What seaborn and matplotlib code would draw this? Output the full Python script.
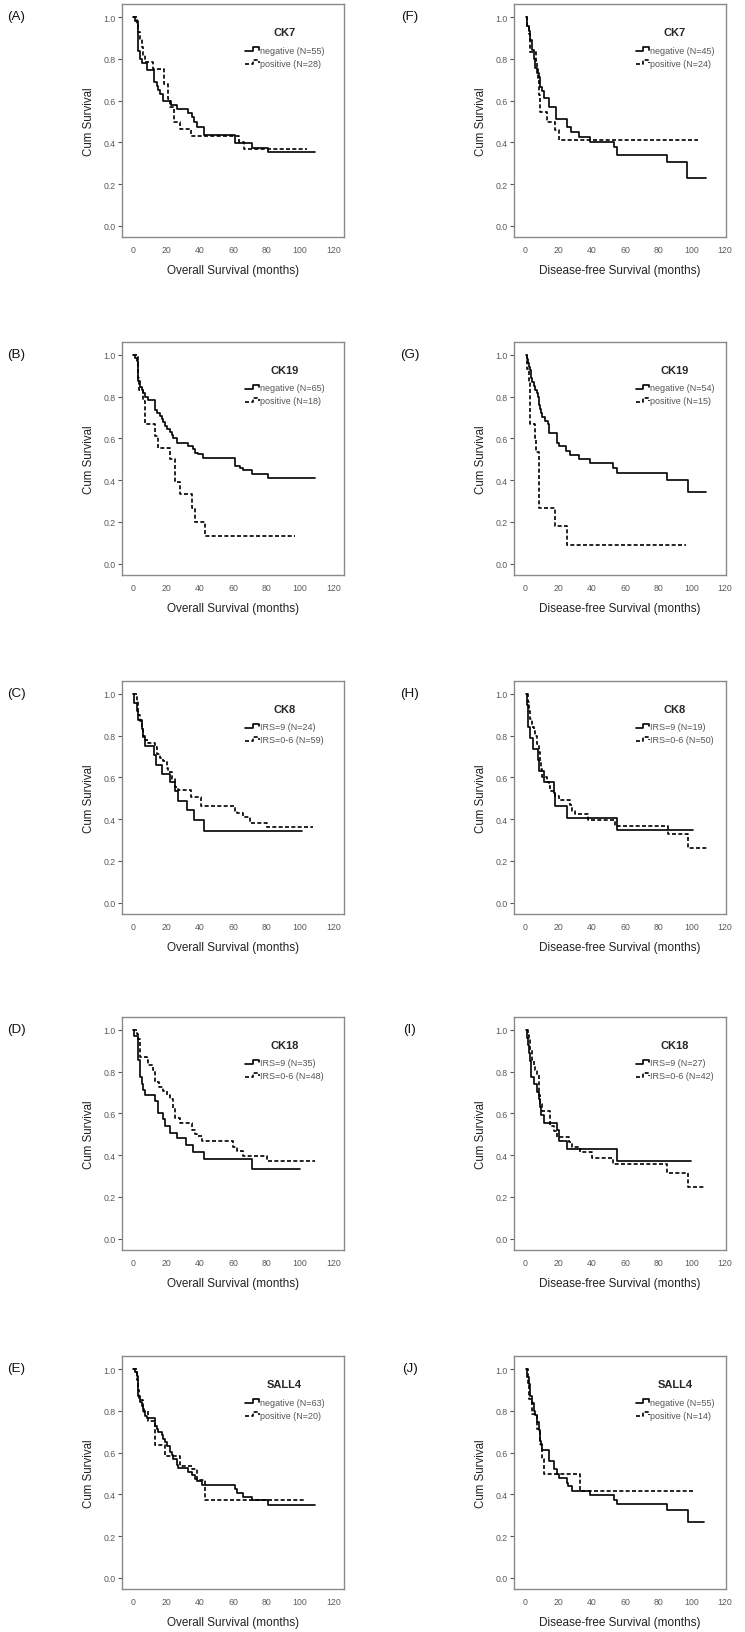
import matplotlib
matplotlib.use("Agg")
import matplotlib.pyplot as plt
import seaborn as sns
from matplotlib.lines import Line2D
from matplotlib.legend_handler import HandlerBase

# ---- data: Kaplan-Meier steps (time in months, cumulative survival) ----
# (A) CK7, overall survival
a_neg_t = [0, 1, 2.5, 3, 4, 5, 8, 12.5, 14, 15, 16, 18, 22.5, 26, 33, 35, 36.5, 38, 42.5, 61, 71, 81, 109]
a_neg_s = [1.0, 0.98, 0.96, 0.84, 0.80, 0.78, 0.745, 0.69, 0.67, 0.65, 0.63, 0.60, 0.58, 0.56, 0.54, 0.52, 0.50, 0.475, 0.437, 0.395, 0.375, 0.352, 0.352]
a_pos_t = [0, 2, 3, 4, 5, 6, 7, 12, 18.5, 21, 22, 24.5, 28, 34.5, 63.5, 66.5, 104]
a_pos_s = [1.0, 0.964, 0.929, 0.893, 0.857, 0.821, 0.786, 0.75, 0.68, 0.61, 0.571, 0.50, 0.464, 0.429, 0.40, 0.368, 0.368]

# (B) CK19, overall survival
b_neg_t = [0, 1, 2, 3, 4, 5, 6, 7, 9, 13, 14, 16, 17, 18, 19, 20, 22, 23, 24, 26, 33, 36, 37, 39, 42, 61, 64, 66, 71, 81, 109]
b_neg_s = [1.0, 0.985, 0.969, 0.877, 0.846, 0.831, 0.815, 0.80, 0.785, 0.738, 0.723, 0.708, 0.692, 0.677, 0.66, 0.646, 0.631, 0.615, 0.60, 0.58, 0.563, 0.548, 0.532, 0.525, 0.505, 0.47, 0.46, 0.45, 0.43, 0.41, 0.41]
b_pos_t = [0, 2.5, 3, 3.5, 6, 7, 13, 15, 22, 25, 28, 35, 37, 43, 97]
b_pos_s = [1.0, 0.944, 0.889, 0.833, 0.778, 0.667, 0.611, 0.556, 0.50, 0.389, 0.333, 0.267, 0.20, 0.133, 0.133]

# (C) CK8, overall survival
c_hi_t = [0, 0.2, 2, 3, 5, 6, 7, 12.6, 13.5, 17.4, 22, 25, 27, 32, 36.6, 42.6, 101]
c_hi_s = [1.0, 0.958, 0.917, 0.875, 0.833, 0.792, 0.75, 0.708, 0.66, 0.617, 0.577, 0.537, 0.486, 0.442, 0.394, 0.343, 0.343]
c_lo_t = [0, 2, 3, 4, 5, 6, 7, 9, 13, 14, 16, 18, 20, 21, 23, 25, 27, 34.5, 40.5, 61, 62, 66, 70, 80, 108]
c_lo_s = [1.0, 0.966, 0.898, 0.869, 0.83, 0.80, 0.78, 0.764, 0.746, 0.712, 0.695, 0.678, 0.644, 0.625, 0.59, 0.553, 0.541, 0.505, 0.464, 0.44, 0.429, 0.41, 0.383, 0.362, 0.362]

# (D) CK18, overall survival
d_hi_t = [0, 0.2, 3, 4, 5, 6, 7, 13, 14.5, 15, 18, 19, 22, 26, 31.6, 36, 42.4, 71, 100]
d_hi_s = [1.0, 0.971, 0.857, 0.773, 0.743, 0.714, 0.686, 0.657, 0.629, 0.60, 0.571, 0.54, 0.508, 0.48, 0.449, 0.414, 0.38, 0.332, 0.332]
d_lo_t = [0, 2, 3, 4, 8, 9, 12, 13, 15.6, 18, 20, 22, 24, 25, 28, 35, 37, 38, 41, 60, 62, 66, 80, 109]
d_lo_s = [1.0, 0.979, 0.958, 0.872, 0.854, 0.833, 0.808, 0.752, 0.728, 0.708, 0.688, 0.667, 0.625, 0.58, 0.553, 0.521, 0.50, 0.49, 0.468, 0.44, 0.42, 0.398, 0.372, 0.372]

# (E) SALL4, overall survival
e_neg_t = [0, 1, 2, 2.5, 3, 4, 5, 6, 6.5, 7, 8, 13, 14, 15, 17, 18, 19, 20, 22, 23, 24, 26, 27, 33, 35, 37, 38, 41, 61, 62, 66, 71, 81, 109]
e_neg_s = [1.0, 0.984, 0.968, 0.952, 0.873, 0.841, 0.825, 0.81, 0.794, 0.778, 0.766, 0.73, 0.714, 0.698, 0.683, 0.667, 0.651, 0.633, 0.603, 0.587, 0.571, 0.542, 0.526, 0.508, 0.492, 0.476, 0.462, 0.447, 0.428, 0.407, 0.39, 0.372, 0.35, 0.35]
e_pos_t = [0, 2, 2.5, 3.5, 6, 9, 13, 19, 28, 35, 38, 43, 103]
e_pos_s = [1.0, 0.95, 0.90, 0.85, 0.80, 0.75, 0.637, 0.582, 0.534, 0.523, 0.47, 0.375, 0.375]

# (F) CK7, disease-free survival
f_neg_t = [0.5, 1, 2, 3, 4, 5, 6, 7, 8, 9, 10, 11.5, 14, 18.5, 25, 27.6, 32.4, 39, 53.4, 55, 85, 97.6, 108.6]
f_neg_s = [1.0, 0.956, 0.933, 0.889, 0.844, 0.80, 0.756, 0.733, 0.711, 0.667, 0.644, 0.613, 0.57, 0.514, 0.473, 0.449, 0.425, 0.40, 0.38, 0.342, 0.306, 0.228, 0.228]
f_pos_t = [0.5, 1, 2, 3, 6.5, 7, 7.5, 8, 9, 13, 18, 20.5, 104]
f_pos_s = [1.0, 0.958, 0.917, 0.833, 0.79, 0.75, 0.708, 0.625, 0.545, 0.50, 0.458, 0.41, 0.41]

# (G) CK19, disease-free survival
g_neg_t = [0.5, 1, 1.5, 2, 3, 3.5, 4, 5, 6, 7, 7.5, 8, 8.5, 9, 9.5, 10, 12, 13.5, 14, 19, 20, 24.5, 27, 32.5, 39, 53, 55, 85, 97.7, 108.6]
g_neg_s = [1.0, 0.98, 0.963, 0.944, 0.926, 0.889, 0.87, 0.852, 0.833, 0.815, 0.796, 0.778, 0.759, 0.741, 0.722, 0.704, 0.685, 0.667, 0.625, 0.58, 0.562, 0.54, 0.52, 0.50, 0.484, 0.46, 0.433, 0.402, 0.345, 0.345]
g_pos_t = [0.5, 1, 2, 2.6, 6, 6.5, 8.4, 18, 25, 97]
g_pos_s = [1.0, 0.933, 0.867, 0.667, 0.60, 0.533, 0.267, 0.178, 0.089, 0.089]

# (H) CK8, disease-free survival
h_hi_t = [0.6, 1, 1.8, 2.6, 4.8, 7.4, 8.4, 11.4, 17.4, 18, 24.8, 55, 100.8]
h_hi_s = [1.0, 0.947, 0.842, 0.789, 0.737, 0.684, 0.632, 0.579, 0.526, 0.465, 0.406, 0.348, 0.348]
h_lo_t = [1, 1.5, 2, 3, 4, 5, 6, 7, 8, 9, 9.5, 10, 13, 14, 15, 18, 20, 27, 28, 30, 38, 54, 86, 98, 109.4]
h_lo_s = [1.0, 0.96, 0.92, 0.88, 0.84, 0.82, 0.80, 0.76, 0.72, 0.68, 0.64, 0.60, 0.58, 0.56, 0.537, 0.51, 0.49, 0.466, 0.44, 0.423, 0.394, 0.367, 0.33, 0.263, 0.263]

# (I) CK18, disease-free survival
i_hi_t = [0.5, 1, 1.5, 2.5, 3, 3.5, 5, 7, 8, 9, 9.5, 11.5, 19.3, 20, 25, 55, 99.7]
i_hi_s = [1.0, 0.963, 0.926, 0.889, 0.852, 0.776, 0.741, 0.704, 0.667, 0.63, 0.593, 0.556, 0.519, 0.47, 0.428, 0.374, 0.374]
i_lo_t = [1, 1.5, 2, 3, 4, 5, 6, 7, 8, 8.5, 9, 10, 15, 17, 19, 26, 28, 33, 40, 53, 85.5, 98, 107.6]
i_lo_s = [1.0, 0.976, 0.952, 0.905, 0.857, 0.832, 0.81, 0.786, 0.738, 0.69, 0.643, 0.613, 0.54, 0.514, 0.489, 0.463, 0.44, 0.414, 0.385, 0.358, 0.313, 0.249, 0.249]

# (J) SALL4, disease-free survival
j_neg_t = [0.5, 1, 2, 3, 4, 5, 6, 7, 8, 9, 9.5, 10, 14, 14.5, 17.5, 19, 20, 25, 25.5, 28, 39, 53.5, 55, 85, 98, 107.6]
j_neg_s = [1.0, 0.964, 0.927, 0.873, 0.836, 0.80, 0.782, 0.745, 0.709, 0.655, 0.636, 0.613, 0.59, 0.559, 0.52, 0.50, 0.48, 0.455, 0.438, 0.417, 0.398, 0.375, 0.353, 0.326, 0.27, 0.27]
j_pos_t = [0.5, 1.5, 2.5, 4, 7, 9, 10, 11.5, 33, 101.6]
j_pos_s = [1.0, 0.929, 0.857, 0.786, 0.714, 0.643, 0.571, 0.50, 0.417, 0.417]

markers = ["CK7", "CK19", "CK8", "CK18", "SALL4"]
os_labels = [["negative (N=55)", "positive (N=28)"],
             ["negative (N=65)", "positive (N=18)"],
             ["IRS=9 (N=24)", "IRS=0-6 (N=59)"],
             ["IRS=9 (N=35)", "IRS=0-6 (N=48)"],
             ["negative (N=63)", "positive (N=20)"]]
dfs_labels = [["negative (N=45)", "positive (N=24)"],
              ["negative (N=54)", "positive (N=15)"],
              ["IRS=9 (N=19)", "IRS=0-6 (N=50)"],
              ["IRS=9 (N=27)", "IRS=0-6 (N=42)"],
              ["negative (N=55)", "positive (N=14)"]]
os_curves = [(a_neg_t, a_neg_s, a_pos_t, a_pos_s), (b_neg_t, b_neg_s, b_pos_t, b_pos_s),
             (c_hi_t, c_hi_s, c_lo_t, c_lo_s), (d_hi_t, d_hi_s, d_lo_t, d_lo_s),
             (e_neg_t, e_neg_s, e_pos_t, e_pos_s)]
dfs_curves = [(f_neg_t, f_neg_s, f_pos_t, f_pos_s), (g_neg_t, g_neg_s, g_pos_t, g_pos_s),
              (h_hi_t, h_hi_s, h_lo_t, h_lo_s), (i_hi_t, i_hi_s, i_lo_t, i_lo_s),
              (j_neg_t, j_neg_s, j_pos_t, j_pos_s)]
os_tags = ["(A)", "(B)", "(C)", "(D)", "(E)"]
dfs_tags = ["(F)", "(G)", "(H)", "(I)", "(J)"]


class StepHandler(HandlerBase):
    # SPSS-like little step symbol in the legend
    def create_artists(self, legend, orig_handle, xdescent, ydescent, width, height, fontsize, trans):
        xs = [0, 0.55 * width, 0.55 * width, width, width]
        ys = [0.25 * height, 0.25 * height, 0.85 * height, 0.85 * height, 0.45 * height]
        line = Line2D([x - xdescent for x in xs], [y - ydescent for y in ys])
        line.update_from(orig_handle)
        line.set_transform(trans)
        return [line]


sns.set_theme(style="ticks")
plt.rcParams["font.family"] = ["Liberation Sans", "DejaVu Sans"]

W, H = 745, 1633
fig = plt.figure(figsize=(W / 100, H / 100), dpi=100)

row_tops = [5, 342.7, 681.7, 1017.7, 1357]
ax_h = 233
cols = [(122, 222, (-6.8, 126.4), "Overall Survival (months)", os_curves, os_labels, os_tags, 0.555),
        (513.7, 212, (-7.0, 120.6), "Disease-free Survival (months)", dfs_curves, dfs_labels, dfs_tags, 0.575)]

dash = (0, (2.4, 1.4))
for left, width, xlim, xlab, curves, labels, tags, leg_x in cols:
    for r in range(5):
        top = row_tops[r]
        ax = fig.add_axes([left / W, 1 - (top + ax_h) / H, width / W, ax_h / H])
        t1, s1, t2, s2 = curves[r]
        sns.lineplot(x=t1, y=s1, ax=ax, color="black", linewidth=1.2, estimator=None,
                     sort=False, drawstyle="steps-post", label=labels[r][0])
        sns.lineplot(x=t2, y=s2, ax=ax, color="black", linewidth=1.2, estimator=None,
                     sort=False, drawstyle="steps-post", linestyle=dash, label=labels[r][1])
        ax.set_xlim(*xlim)
        ax.set_ylim(-0.053, 1.063)
        ax.set_xticks([0, 20, 40, 60, 80, 100, 120])
        ax.set_yticks([0.0, 0.2, 0.4, 0.6, 0.8, 1.0])
        ax.set_yticklabels(["0.0", "0.2", "0.4", "0.6", "0.8", "1.0"])
        ax.tick_params(axis="y", length=3, width=0.8, color="#555555", labelsize=6.3,
                       labelcolor="#5a5a5a", pad=1.5)
        ax.tick_params(axis="x", length=0, labelsize=6.3, labelcolor="#5a5a5a", pad=6)
        for sp in ax.spines.values():
            sp.set_visible(True)
            sp.set_color("#8a8a8a")
            sp.set_linewidth(1.0)
        ax.set_xlabel(xlab, fontsize=8.5, color="#222222", labelpad=7)
        ax.set_ylabel("Cum Survival", fontsize=8.3, color="#222222", labelpad=6)
        leg = ax.legend(title=markers[r], loc="upper left", bbox_to_anchor=(leg_x, 0.9),
                        frameon=False, fontsize=6.5, handlelength=1.5, handletextpad=0.1,
                        labelspacing=0.45, borderpad=0, borderaxespad=0,
                        title_fontproperties={"weight": "bold", "size": 8},
                        handler_map={Line2D: StepHandler()})
        for txt in leg.get_texts():
            txt.set_color("#555555")
        leg._legend_box.sep = 6
        # panel letter
        tag_x = 16 if left < 300 else 410
        fig.text(tag_x / W, 1 - (top + 12) / H, tags[r], fontsize=9.6, color="#111111",
                 ha="center", va="center")

fig.savefig("out.png", dpi=100)
